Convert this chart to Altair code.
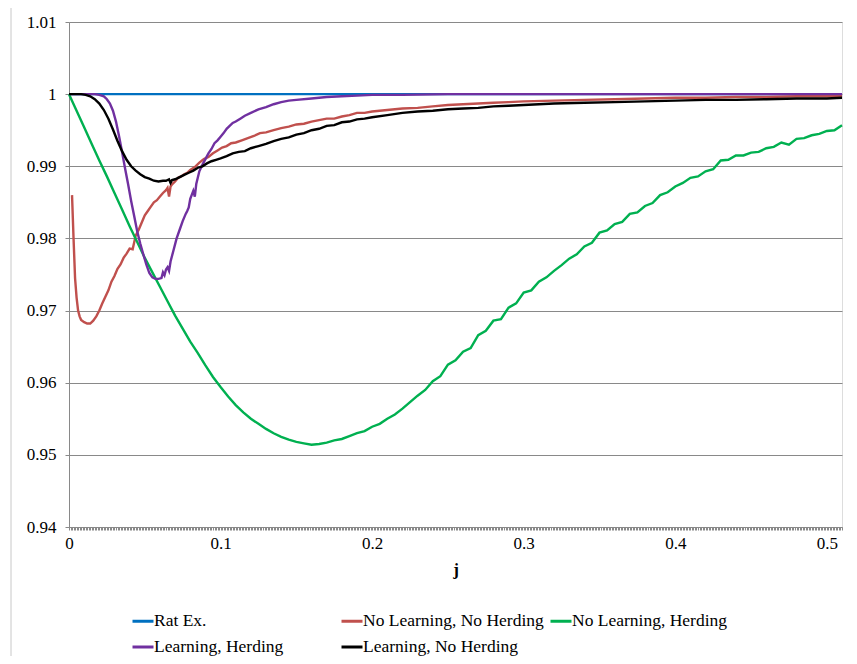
import altair as alt
import pandas as pd

names = ["Rat Ex.", "No Learning, No Herding", "No Learning, Herding",
         "Learning, Herding", "Learning, No Herding"]
colors = ["#0070C0", "#C0504D", "#00B050", "#7030A0", "#000000"]

# Rat Ex.
j_re = [0.0, 0.51]
v_re = [1.0, 1.0]

# No Learning, No Herding
j_nlnh = [0.002, 0.003, 0.004, 0.005, 0.006, 0.007, 0.008, 0.010, 0.012, 0.014,
          0.016, 0.018, 0.020, 0.022, 0.024, 0.026, 0.028, 0.030, 0.032, 0.034,
          0.036, 0.038, 0.040, 0.042, 0.044, 0.046, 0.048, 0.050, 0.052, 0.054,
          0.056, 0.058, 0.060, 0.062, 0.064, 0.065, 0.066, 0.067, 0.068, 0.070,
          0.072, 0.074, 0.076, 0.078, 0.080, 0.083, 0.086, 0.089, 0.092, 0.095,
          0.098, 0.101, 0.104, 0.107, 0.110, 0.114, 0.118, 0.122, 0.126, 0.130,
          0.135, 0.140, 0.145, 0.150, 0.155, 0.160, 0.165, 0.170, 0.175, 0.180,
          0.185, 0.190, 0.195, 0.200, 0.210, 0.220, 0.230, 0.240, 0.250, 0.260,
          0.270, 0.280, 0.290, 0.300, 0.320, 0.340, 0.360, 0.380, 0.400, 0.420,
          0.440, 0.460, 0.480, 0.500, 0.510]
v_nlnh = [0.9860, 0.9800, 0.9745, 0.9718, 0.9700, 0.9692, 0.9687, 0.9684, 0.9682, 0.9682,
          0.9686, 0.9692, 0.9700, 0.9710, 0.9719, 0.9728, 0.9740, 0.9748, 0.9758, 0.9764,
          0.9773, 0.9779, 0.9786, 0.9785, 0.9804, 0.9812, 0.9822, 0.9832, 0.9838, 0.9844,
          0.9850, 0.9853, 0.9858, 0.9863, 0.9867, 0.9870, 0.9858, 0.9872, 0.9875, 0.9879,
          0.9884, 0.9886, 0.9889, 0.9891, 0.9895, 0.9899, 0.9905, 0.9910, 0.9913, 0.9918,
          0.9922, 0.9926, 0.9928, 0.9932, 0.9933, 0.9936, 0.9939, 0.9942, 0.9946, 0.9947,
          0.9950, 0.9953, 0.9955, 0.9958, 0.9959, 0.9962, 0.9964, 0.9966, 0.9966, 0.9969,
          0.9971, 0.9974, 0.9974, 0.9976, 0.9978, 0.9980, 0.9981, 0.9983, 0.9985, 0.9986,
          0.9987, 0.9988, 0.9989, 0.9990, 0.9991, 0.9992, 0.9993, 0.9994, 0.9995, 0.9995,
          0.9996, 0.9996, 0.9997, 0.9997, 0.9997]

# No Learning, Herding (sampled every 0.005 in j)
j_nlh = [round(0.005 * i, 3) for i in range(103)]
v_nlh = [1.0000, 0.9977, 0.9954, 0.9931, 0.9908, 0.9886, 0.9863, 0.9840, 0.9817, 0.9795,
         0.9773, 0.9753, 0.9733, 0.9713, 0.9693, 0.9675, 0.9657, 0.9641, 0.9624, 0.9608,
         0.9594, 0.9581, 0.9569, 0.9559, 0.9550, 0.9543, 0.9536, 0.9530, 0.9525, 0.9521,
         0.9518, 0.9516, 0.9514, 0.9515, 0.9517, 0.9520, 0.9522, 0.9526, 0.9530, 0.9533,
         0.9539, 0.9543, 0.9550, 0.9556, 0.9564, 0.9573, 0.9582,
         0.9590, 0.9602, 0.9609, 0.9625, 0.9631, 0.9643, 0.9648, 0.9666, 0.9672, 0.9686,
         0.9688, 0.9704, 0.9710, 0.9725, 0.9728, 0.9740, 0.9746, 0.9755, 0.9763, 0.9772,
         0.9778, 0.9789, 0.9794, 0.9808, 0.9811, 0.9820, 0.9823, 0.9834, 0.9836, 0.9845,
         0.9849, 0.9860, 0.9864, 0.9872, 0.9877, 0.9884, 0.9886, 0.9893, 0.9896, 0.9908,
         0.9909, 0.9915, 0.9915, 0.9919, 0.9920, 0.9925, 0.9927, 0.9933, 0.9930, 0.9938,
         0.9939, 0.9943, 0.9945, 0.9949, 0.9950, 0.9957]

# Learning, Herding
j_lh = [0.0, 0.010, 0.017, 0.020, 0.023, 0.025, 0.027, 0.029, 0.031, 0.033,
        0.035, 0.037, 0.039, 0.041, 0.043, 0.045, 0.047, 0.049, 0.051, 0.053,
        0.055, 0.057, 0.059, 0.061, 0.062, 0.063, 0.064, 0.065, 0.066, 0.067,
        0.069, 0.071, 0.073, 0.075, 0.077, 0.078, 0.079, 0.080, 0.082, 0.083,
        0.084, 0.086, 0.088, 0.090, 0.092, 0.094, 0.096, 0.098, 0.100, 0.102,
        0.104, 0.106, 0.108, 0.110, 0.113, 0.116, 0.120, 0.125, 0.130, 0.135,
        0.140, 0.145, 0.150, 0.160, 0.170, 0.180, 0.190, 0.200, 0.220, 0.250,
        0.300, 0.400, 0.510]
v_lh = [1.0000, 1.0000, 1.0000, 0.9999, 0.9997, 0.9993, 0.9987, 0.9977, 0.9962, 0.9942,
        0.9920, 0.9897, 0.9875, 0.9852, 0.9831, 0.9810, 0.9793, 0.9778, 0.9764, 0.9752,
        0.9746, 0.9744, 0.9744, 0.9745, 0.9753, 0.9749, 0.9757, 0.9760, 0.9755, 0.9768,
        0.9784, 0.9800, 0.9812, 0.9824, 0.9834, 0.9838, 0.9843, 0.9855, 0.9866, 0.9858,
        0.9876, 0.9893, 0.9902, 0.9910, 0.9918, 0.9924, 0.9932, 0.9936, 0.9941, 0.9946,
        0.9952, 0.9956, 0.9960, 0.9962, 0.9966, 0.9970, 0.9974, 0.9979, 0.9982, 0.9986,
        0.9989, 0.9991, 0.9992, 0.9994, 0.9996, 0.9997, 0.9998, 0.9999, 0.9999, 1.0000,
        1.0000, 1.0000, 1.0000]

# Learning, No Herding
j_lnh = [0.0, 0.004, 0.008, 0.011, 0.014, 0.017, 0.020, 0.023, 0.026, 0.029,
         0.032, 0.035, 0.038, 0.041, 0.044, 0.047, 0.050, 0.053, 0.056, 0.059,
         0.062, 0.064, 0.066, 0.067, 0.068, 0.070, 0.073, 0.076, 0.079, 0.082,
         0.085, 0.088, 0.091, 0.094, 0.097, 0.100, 0.104, 0.108, 0.112, 0.116,
         0.120, 0.125, 0.130, 0.135, 0.140, 0.145, 0.150, 0.155, 0.160, 0.165,
         0.170, 0.175, 0.180, 0.185, 0.190, 0.195, 0.200, 0.210, 0.220, 0.230,
         0.240, 0.250, 0.260, 0.270, 0.280, 0.290, 0.300, 0.320, 0.340, 0.360,
         0.380, 0.400, 0.420, 0.440, 0.460, 0.480, 0.500, 0.510]
v_lnh = [1.0000, 1.0000, 1.0000, 0.9999, 0.9997, 0.9993, 0.9987, 0.9978, 0.9966, 0.9951,
         0.9935, 0.9921, 0.9909, 0.9900, 0.9894, 0.9889, 0.9885, 0.9883, 0.9880, 0.9879,
         0.9880, 0.9880, 0.9882, 0.9877, 0.9881, 0.9882, 0.9885, 0.9888, 0.9891, 0.9894,
         0.9898, 0.9900, 0.9904, 0.9907, 0.9909, 0.9911, 0.9914, 0.9918, 0.9920, 0.9921,
         0.9925, 0.9928, 0.9931, 0.9935, 0.9938, 0.9940, 0.9944, 0.9946, 0.9950, 0.9952,
         0.9956, 0.9957, 0.9961, 0.9962, 0.9965, 0.9966, 0.9968, 0.9971, 0.9974, 0.9976,
         0.9977, 0.9979, 0.9980, 0.9981, 0.9983, 0.9984, 0.9985, 0.9987, 0.9988, 0.9989,
         0.9990, 0.9991, 0.9992, 0.9992, 0.9993, 0.9994, 0.9994, 0.9995]

y_ticks = [0.94, 0.95, 0.96, 0.97, 0.98, 0.99, 1.00, 1.01]
x_ticks = [round(0.001 * i, 3) for i in range(511)]

series = [(names[0], j_re, v_re), (names[1], j_nlnh, v_nlnh), (names[2], j_nlh, v_nlh),
          (names[3], j_lh, v_lh), (names[4], j_lnh, v_lnh)]
rows = []
for name, js, vs in series:
    for a, b in zip(js, vs, strict=True):
        rows.append({"series": name, "j": a, "v": b})
df = pd.DataFrame(rows)

FONT = "Liberation Serif, Times New Roman, serif"
GRAY = "#898989"

x = alt.X("j:Q", scale=alt.Scale(domain=[0, 0.51], nice=False, zero=False),
          axis=alt.Axis(values=x_ticks, grid=False, tickSize=3, tickColor=GRAY,
                        domainColor=GRAY, labelOverlap=False, labelFlush=False,
                        labelExpr="abs(datum.value*10 - round(datum.value*10)) < 0.001 ? format(datum.value, '~g') : ''",
                        labelFont=FONT, labelFontSize=17, labelColor="black",
                        labelPadding=5, title="j", titleFont=FONT, titleFontSize=17,
                        titleFontWeight="bold", titleColor="black", titlePadding=10))
y = alt.Y("v:Q", scale=alt.Scale(domain=[0.94, 1.01], nice=False, zero=False),
          axis=alt.Axis(values=y_ticks, format=".2~f", grid=True, gridColor=GRAY,
                        domainColor=GRAY, tickColor=GRAY, tickSize=4,
                        labelFont=FONT, labelFontSize=17, labelColor="black",
                        labelPadding=9, title=None))
color = alt.Color("series:N", scale=alt.Scale(domain=names, range=colors),
                  legend=alt.Legend(title=None, orient="none", legendX=62, legendY=587,
                                    columns=3, gridAlign="all", columnPadding=0,
                                    rowPadding=5, symbolType="stroke", symbolSize=441,
                                    symbolStrokeWidth=3, labelFont=FONT,
                                    labelFontSize=17.5, labelColor="black",
                                    labelOffset={"expr": "-1"}, labelLimit=300,
                                    direction="horizontal"))

base = alt.Chart(df).encode(x=x, y=y, color=color)
layers = [base.transform_filter(alt.datum.series == n).mark_line(strokeWidth=2.4)
          for n in names]

border = alt.Chart(pd.DataFrame({"a": [0]})).mark_rule(color="#c8c8c8", strokeWidth=1).encode(
    x=alt.value(-58), y=alt.value(-14), y2=alt.value(634))

chart = alt.layer(border, *layers).properties(
    width=773, height=505,
    autosize=alt.AutoSizeParams(type="none"),
    padding={"left": 61, "top": 14, "right": 7, "bottom": 129},
).configure_view(stroke=None).configure(background="white")

chart.save("out.html", embed_options={"renderer": "svg", "actions": False})
